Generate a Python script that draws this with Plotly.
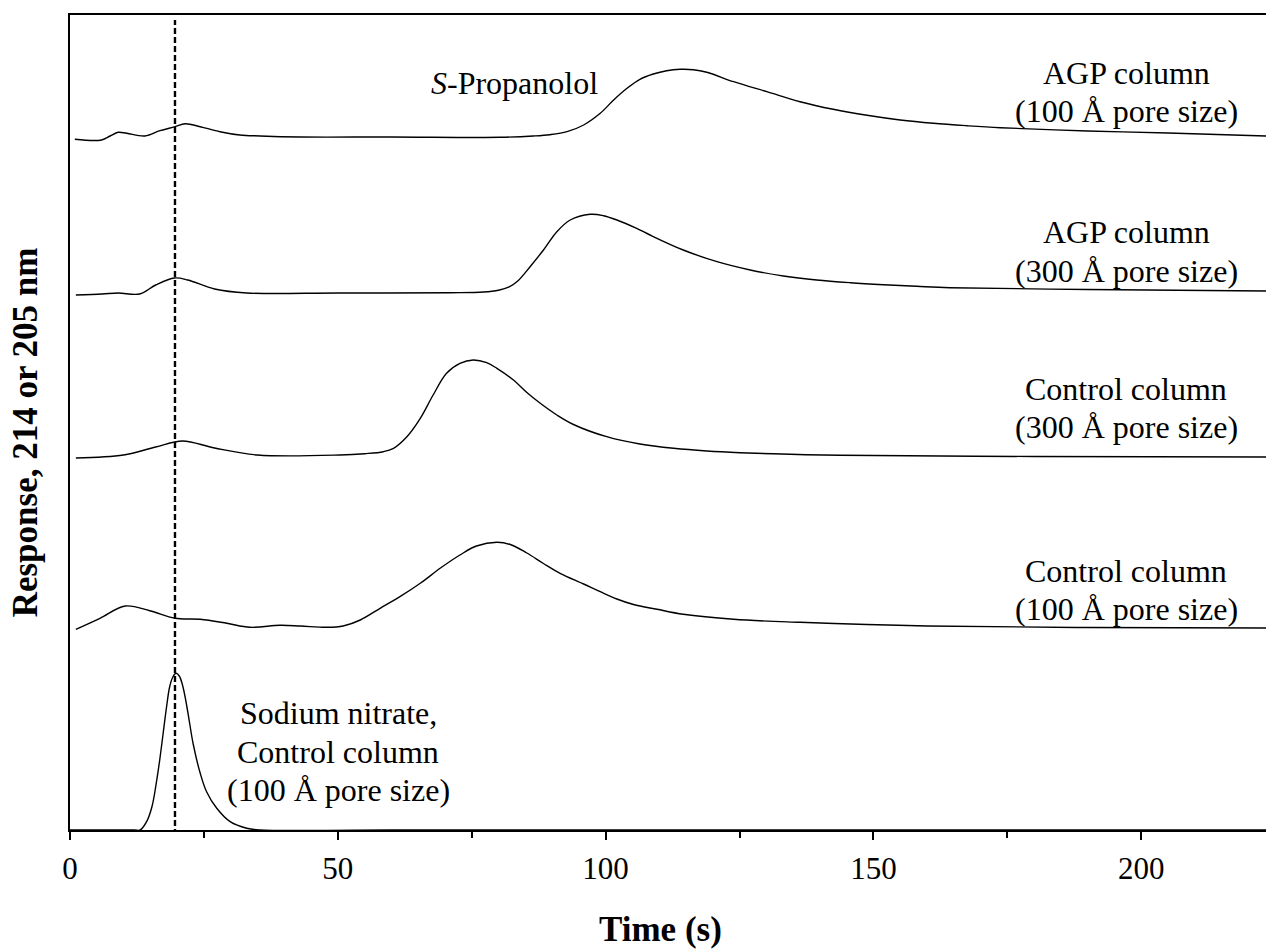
import plotly.graph_objects as go

# ---- data (arbitrary response units, traces stacked with offsets) ----
t_agp100 = [0.9, 5.9, 7.5, 9.0, 10.6, 14.0, 16.8, 19.6, 21.5, 24.3, 28.0, 31.7, 35.5, 43, 60, 80.3, 86.5,
            89.6, 92.8, 95.9, 99.0, 101.5, 104.0, 106.4, 108.9, 111.4, 113.9, 116.4, 118.9, 123.9, 130.1,
            136.3, 142.5, 148.8, 155.0, 161.2, 167.4, 173.7, 190, 205, 223.3]
y_agp100 = [690.7, 690, 694, 697.7, 696.7, 694, 699.3, 703.3, 706.3, 703.3, 698.3, 695, 694, 693, 693, 692.7, 694,
            695.3, 698.3, 705, 716.7, 730, 741.7, 750.7, 756, 759.3, 760.7, 760.3, 757.7, 748.3, 738.3,
            728.3, 720.7, 714.7, 710, 706.7, 704.3, 702.3, 699, 697, 694]

t_agp300 = [1.1, 6, 9, 13, 16, 19.5, 22, 27, 33, 50, 71.0, 77.2, 80.0, 82.0, 83.6, 85.9, 88.4, 90.9, 93.4, 97.1,
            99.6, 102.1, 105.8, 108.3, 114.5, 120.8, 127.0, 133.2, 139.4, 145.7, 151.9, 158.1, 164.3,
            190, 223.3]
y_agp300 = [535, 536, 537, 536, 545, 552, 550, 541, 537, 537, 537.3, 538, 539.8, 543.2, 549, 563.3, 580, 598.3, 610, 615.7,
            614.3, 610, 601.7, 595, 580, 568.3, 560, 554, 550, 547.3, 545.3, 543.7, 542.3,
            540.5, 539]

t_ctl300 = [1.1, 10, 16, 21, 27, 35, 50.4, 55.0, 58.5, 60.4, 62.9, 65.4, 67.8, 70.3, 72.8, 75.3, 77.8, 79.7,
            82.8, 85.3, 87.8, 90.9, 94.0, 100.2, 106.4, 112.7, 118.9, 125.1, 134.5, 143.8, 180, 223.3]
y_ctl300 = [372, 375, 383, 389, 382, 375, 375, 376.3, 378.3, 381.7, 393.3, 411.7, 435, 456.7, 466.7, 470, 467.3, 461.7,
            450, 437.5, 426.7, 415, 405.5, 393.3, 386, 381.7, 379, 377.3, 375.7, 374.7, 373.5, 373]

t_ctl100 = [1.1, 5.6, 10.3, 14.9, 19.6, 24.3, 29.3, 33.6, 39.2, 43.0, 47.9, 51.0, 54.2, 57.9, 61.6, 65.4,
            69.1, 72.8, 75.9, 79.7, 82.2, 85.3, 88.4, 91.5, 95.9, 99.0, 102.1, 105.2, 109.6, 114.5,
            123.9, 136.3, 160, 190, 223.3]
y_ctl100 = [200.7, 211.7, 224, 219.3, 211.7, 210.7, 206.7, 202.7, 204.7, 204, 202.7, 204, 210, 221.7, 233.3, 246.7,
            261.7, 275, 284, 287.7, 285.5, 277, 266.5, 256.7, 246, 238.3, 231, 225.5, 220.7, 215.7,
            210.7, 207.7, 204, 202.5, 202]

t_nitrate = [0, 12.0, 13.1, 14.3, 15.3, 16.2, 16.8, 17.4, 18.0, 18.6, 19.2, 19.8, 20.4, 21.0, 21.6, 22.3,
             23.0, 24.3, 25.5, 27.4, 29.9, 33.0, 35.5, 60, 223.3]
y_nitrate = [0, 0, 0, 8.3, 23.3, 50, 72, 97, 122, 143, 153, 156.7, 154, 145, 130, 108,
             86, 57, 38.3, 21.7, 8.3, 1.7, 0, 0, 0]

void_time = 19.6

x_ticks = [0, 50, 100, 150, 200]
x_ticklabels = ["0", "50", "100", "150", "200"]

FONT = "Liberation Serif"

fig = go.Figure()
for tx, ty in [(t_agp100, y_agp100), (t_agp300, y_agp300), (t_ctl300, y_ctl300),
               (t_ctl100, y_ctl100), (t_nitrate, y_nitrate)]:
    fig.add_trace(go.Scatter(x=tx, y=ty, mode="lines",
                             line=dict(color="black", width=1.4, shape="spline", smoothing=1.0),
                             showlegend=False, hoverinfo="skip"))

fig.add_shape(type="line", x0=void_time, x1=void_time, y0=-14, y1=810, xref="x", yref="y",
              line=dict(color="black", width=2.4, dash="6px,3px"))

# label lines: (x in s, y in response units, text)
labels = [
    (197.2, 757, "AGP column"), (197.2, 719, "(100 Å pore size)"),
    (197.2, 598, "AGP column"), (197.2, 559, "(300 Å pore size)"),
    (197.2, 441, "Control column"), (197.2, 403, "(300 Å pore size)"),
    (197.2, 259, "Control column"), (197.2, 221, "(100 Å pore size)"),
    (50.1, 117, "Sodium nitrate,"), (50.1, 78, "Control column"), (50.1, 40, "(100 Å pore size)"),
    (82.9, 747, "<i>S</i>-Propanolol"),
]
for x, y, txt in labels:
    fig.add_annotation(x=x, y=y, xref="x", yref="y", text=txt, showarrow=False,
                       xanchor="center", yanchor="middle", align="center",
                       font=dict(family=FONT, size=32, color="black"))

fig.add_annotation(x=-0.0376, y=0.488, xref="paper", yref="paper", text="<b>Response, 214 or 205 nm</b>",
                   textangle=-90, showarrow=False, xanchor="center", yanchor="middle",
                   font=dict(family=FONT, size=35, color="black"))
fig.add_annotation(x=0.494, y=-0.1215, xref="paper", yref="paper", text="<b>Time (s)</b>",
                   showarrow=False, xanchor="center", yanchor="middle",
                   font=dict(family=FONT, size=35, color="black"))

fig.update_xaxes(range=[0, 223.3], tickvals=x_ticks, ticktext=x_ticklabels, ticks="outside", ticklen=8,
                 tickwidth=1.5, tickcolor="black", showline=True, linecolor="black", linewidth=2,
                 mirror=True, showgrid=False, zeroline=False, ticklabelstandoff=2,
                 tickfont=dict(family=FONT, size=31, color="black"),
                 minor=dict(dtick=25, tick0=0, ticks="outside", ticklen=6, tickwidth=1.5, tickcolor="black",
                            showgrid=False))
fig.update_yaxes(range=[0, 815], showline=True, linecolor="black", linewidth=2, showticklabels=False,
                 ticks="", showgrid=False, zeroline=False)

fig.update_layout(width=1266, height=950, margin=dict(l=70, r=0, t=15, b=120),
                  font=dict(family=FONT, size=31, color="black"),
                  plot_bgcolor="white", paper_bgcolor="white")

fig.write_html("out.html")
